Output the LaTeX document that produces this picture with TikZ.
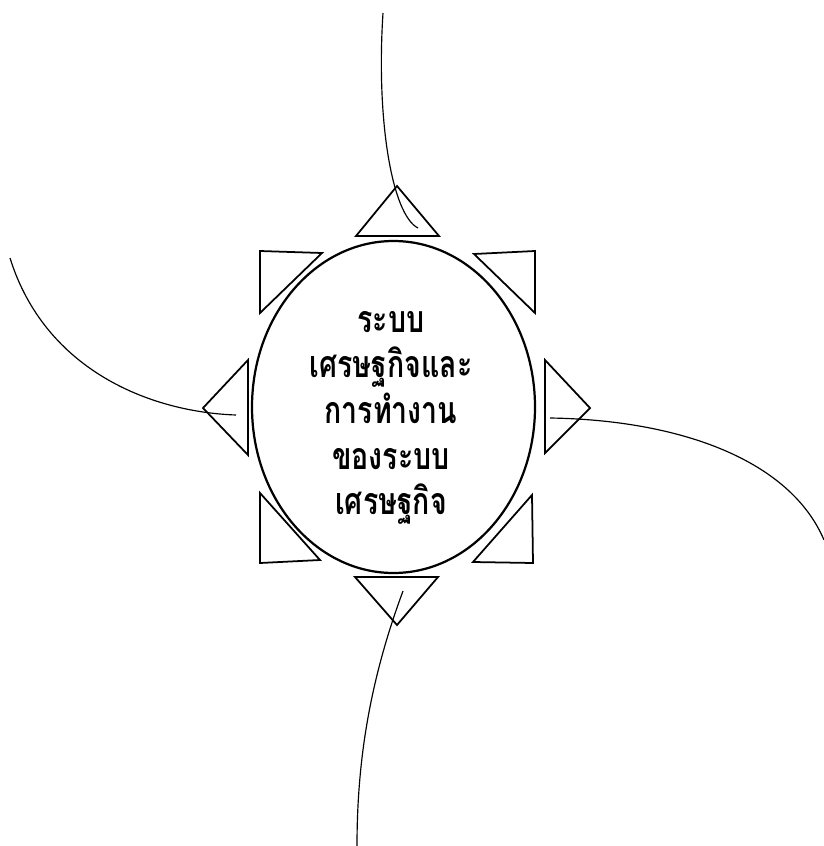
\documentclass[tikz,border=0pt]{standalone}
\usepackage{fontspec}
\newfontfamily\thaifont[Script=Thai,FakeStretch=0.76]{Loma}
\usetikzlibrary{shapes.geometric}

\begin{document}
\begin{tikzpicture}[x=0.3mm, y=-0.3mm,
    core/.style={ellipse, draw, line width=1.9pt, minimum width=84.9mm, minimum height=99.6mm, inner sep=0pt},
    caption/.style={align=center, inner sep=0pt, font=\thaifont\bfseries\fontsize{32}{39}\selectfont},
    tri/.style={draw, line width=1.5pt, line join=miter},
    link/.style={draw, line width=1pt}
]
    \useasboundingbox (0,0) rectangle (824,846);

    % Nodes
    \node[core] (eco) at (393.5,407) {};
    \node[caption] (ecotext) at (391,418) {ระบบ\\เศรษฐกิจและ\\การทำงาน\\ของระบบ\\เศรษฐกิจ};

    % Triangles round the ellipse
    \draw[tri] (356,236) -- (397,186) -- (439,236) -- cycle;
    \draw[tri] (260,251) -- (322,253) -- (260,313) -- cycle;
    \draw[tri] (474,254) -- (535,251) -- (535,313) -- cycle;
    \draw[tri] (248,360) -- (203,408) -- (248,455) -- cycle;
    \draw[tri] (545,360) -- (590,408) -- (545,453) -- cycle;
    \draw[tri] (260,493) -- (320,560) -- (260,563) -- cycle;
    \draw[tri] (532,495) -- (533,563) -- (473,562) -- cycle;
    \draw[tri] (355,577) -- (438,577) -- (397,625) -- cycle;

    % Curve ends
    \coordinate (topfree) at (383,13);
    \coordinate (topin) at (418,228);
    \coordinate (leftfree) at (10,258);
    \coordinate (leftin) at (236,415);
    \coordinate (rightin) at (550,418);
    \coordinate (rightfree) at (824,540);
    \coordinate (botin) at (403,591);
    \coordinate (botfree) at (357,846);

    % Curves
    \draw[link] (topfree) .. controls (376,120) and (392,215) .. (topin);
    \draw[link] (leftfree) .. controls (45,370) and (150,412) .. (leftin);
    \draw[link] (rightin) .. controls (680,420) and (790,460) .. (rightfree);
    \draw[link] (botin) .. controls (370,680) and (357,760) .. (botfree);
\end{tikzpicture}
\end{document}
